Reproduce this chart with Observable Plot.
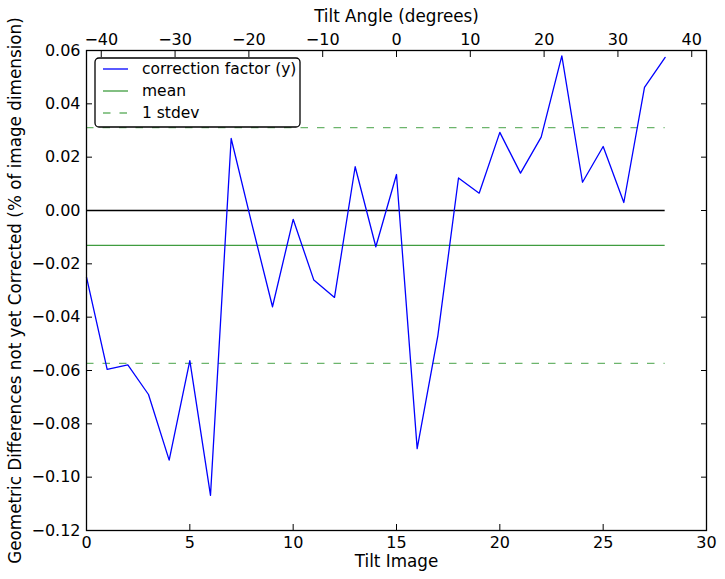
<!DOCTYPE html>
<html>
<head>
<meta charset="utf-8">
<script src="https://cdn.jsdelivr.net/npm/d3@7"></script>
<script src="https://cdn.jsdelivr.net/npm/@observablehq/plot@0.6"></script>
<style>
  html, body { margin: 0; padding: 0; background: #fff; }
  svg { display: block; }
</style>
</head>
<body>
<div id="chart"></div>
<script>
// Data
const tiltImage = [0,1,2,3,4,5,6,7,8,9,10,11,12,13,14,15,16,17,18,19,20,21,22,23,24,25,26,27,28];
const correction = [-0.025,-0.0596,-0.0579,-0.069,-0.0936,-0.0563,-0.1068,0.027,-0.005,-0.0361,-0.0033,-0.0261,-0.0326,0.0164,-0.0136,0.0135,-0.0893,-0.047,0.0122,0.0065,0.0293,0.014,0.0275,0.058,0.0106,0.024,0.003,0.0462,0.0574];
const meanValue = -0.0131;
const stdevValue = 0.0442;
const xTicks = [0,5,10,15,20,25,30];
const yTicks = [-0.12,-0.10,-0.08,-0.06,-0.04,-0.02,0.00,0.02,0.04,0.06];
const angleTicks = [-40,-30,-20,-10,0,10,20,30,40];
const angleDomain = [-42, 42];
const legendLabels = ["correction factor (y)", "mean", "1 stdev"];

const data = tiltImage.map((x, i) => ({x, y: correction[i]}));
const xStart = tiltImage[0], xEnd = tiltImage[tiltImage.length - 1];
const hlines = [
  {y: 0, kind: "zero"},
  {y: meanValue, kind: "mean"},
  {y: meanValue + stdevValue, kind: "sd"},
  {y: meanValue - stdevValue, kind: "sd"}
];
const xDomain = [0, 30];
const angleToImage = a => xDomain[0] + (a - angleDomain[0]) / (angleDomain[1] - angleDomain[0]) * (xDomain[1] - xDomain[0]);
const imageToAngle = x => angleDomain[0] + (x - xDomain[0]) / (xDomain[1] - xDomain[0]) * (angleDomain[1] - angleDomain[0]);
const minus = s => String(s).replace("-", "\u2212");

const FONT = "DejaVu Sans, sans-serif";
const FS = 16;       // tick labels
const FL = 16.8;     // axis labels
const FLEG = 15.5;   // legend
const meanColor = "#3f9c3f";
const sdColor = "#6cb56c";
const DASH = "7.5,9";

const plot = Plot.plot({
  width: 725,
  height: 579,
  marginLeft: 86,
  marginRight: 19,
  marginTop: 50,
  marginBottom: 49,
  style: {fontFamily: FONT, fontSize: FS + "px", color: "black", background: "white"},
  x: {domain: xDomain},
  y: {domain: [-0.12, 0.06]},
  marks: [
    Plot.ruleY(hlines.filter(d => d.kind === "zero"), {y: "y", x1: xStart, x2: xEnd, stroke: "black", strokeWidth: 1.3}),
    Plot.ruleY(hlines.filter(d => d.kind === "mean"), {y: "y", x1: xStart, x2: xEnd, stroke: meanColor, strokeWidth: 1.3}),
    Plot.ruleY(hlines.filter(d => d.kind === "sd"), {y: "y", x1: xStart, x2: xEnd, stroke: sdColor, strokeWidth: 1.3, strokeDasharray: DASH}),
    Plot.line(data, {x: "x", y: "y", stroke: "#0000ff", strokeWidth: 1.3}),
    Plot.frame({stroke: "black", strokeWidth: 1.3}),
    Plot.axisX({anchor: "bottom", ticks: xTicks, tickSize: -6, tickPadding: 12, fontSize: FS, tickFormat: d => String(d), label: null}),
    Plot.axisX({anchor: "top", ticks: angleTicks.map(angleToImage), tickSize: -6, tickPadding: 12, fontSize: FS, tickFormat: d => minus(Math.round(imageToAngle(d))), label: null}),
    Plot.axisY({anchor: "left", ticks: yTicks, tickSize: -6, tickPadding: 12, fontSize: FS, tickFormat: d3.format(".2f"), label: null}),
    Plot.axisY({anchor: "right", ticks: yTicks, tickSize: -6, tickFormat: () => "", label: null}),
    Plot.text(["Tilt Image"], {frameAnchor: "bottom", lineAnchor: "middle", textAnchor: "middle", dy: 31, fontSize: FL, fill: "black"}),
    Plot.text(["Tilt Angle (degrees)"], {frameAnchor: "top", lineAnchor: "middle", textAnchor: "middle", dy: -34, fontSize: FL, fill: "black"}),
    Plot.text(["Geometric Differences not yet Corrected (% of image dimension)"], {frameAnchor: "left", textAnchor: "middle", lineAnchor: "middle", dx: -71, rotate: -90, fontSize: FL, fill: "black"})
  ]
});

document.getElementById("chart").appendChild(plot);

// Legend (matplotlib-style box in the upper left)
const svg = d3.select(plot);
const lg = svg.append("g").attr("font-family", FONT).attr("font-size", FLEG).attr("text-anchor", "start");
lg.append("rect").attr("x", 95).attr("y", 58).attr("width", 205).attr("height", 69)
  .attr("rx", 4).attr("fill", "white").attr("stroke", "black").attr("stroke-width", 1.3);
const styles = [
  {stroke: "#0000ff", dash: null},
  {stroke: meanColor, dash: null},
  {stroke: sdColor, dash: DASH}
];
legendLabels.forEach((t, i) => {
  const yy = 69 + i * 22;
  lg.append("line").attr("x1", 103).attr("x2", 128).attr("y1", yy).attr("y2", yy)
    .attr("stroke", styles[i].stroke)
    .attr("stroke-width", 1.3).attr("stroke-dasharray", styles[i].dash);
  lg.append("text").attr("x", 142).attr("y", yy).attr("dy", "0.35em").attr("fill", "black").attr("text-anchor", "start").text(t);
});
</script>
</body>
</html>
